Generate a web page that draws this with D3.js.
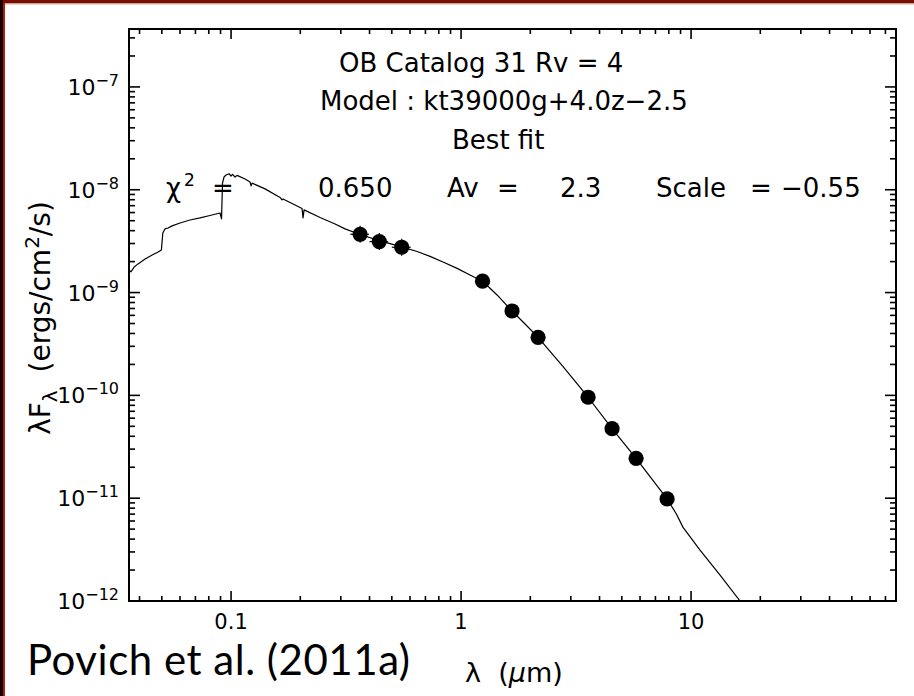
<!DOCTYPE html>
<html><head><meta charset="utf-8">
<script src="https://cdn.jsdelivr.net/npm/d3@7/dist/d3.min.js"></script>
<style>html,body{margin:0;padding:0;background:#fff}svg{display:block}</style>
</head><body>
<script>
// ---- data ----
// model SED (wavelength in micron, lambda*F_lambda in erg/cm^2/s)
const modelWavelength = [0.0360,0.0367,0.0379,0.0394,0.0423,0.0454,0.0482,0.0498,0.0505,0.0516,0.0532,0.0554,0.0600,0.0663,0.0733,0.0810,0.0896,0.0909,0.0918,0.0932,0.0951,0.0980,0.1000,0.1015,0.1041,0.1062,0.1151,0.1209,0.1222,0.1234,0.1405,0.1633,0.1666,0.1683,0.1898,0.2035,0.2056,0.2077,0.2438,0.2833,0.3131,0.3638,0.4444,0.543,0.644,0.733,0.835,0.961,1.094,1.246,1.434,1.666,1.898,2.162,2.777,3.566,4.535,5.767,7.865,8.61,9.23,10.94,13.37,16.33,19.95];
const modelFlux = [1.66e-9,1.59e-9,1.77e-9,1.90e-9,2.12e-9,2.32e-9,2.48e-9,2.60e-9,3.80e-9,4.16e-9,4.25e-9,4.45e-9,4.75e-9,5.08e-9,5.32e-9,5.62e-9,5.94e-9,5.20e-9,1.16e-8,1.33e-8,1.39e-8,1.43e-8,1.36e-8,1.41e-8,1.33e-8,1.38e-8,1.27e-8,1.19e-8,1.09e-8,1.16e-8,1.02e-8,8.41e-9,7.96e-9,8.14e-9,7.11e-9,6.58e-9,5.32e-9,6.37e-9,5.38e-9,4.65e-9,4.16e-9,3.67e-9,3.18e-9,2.81e-9,2.51e-9,2.25e-9,1.98e-9,1.72e-9,1.48e-9,1.28e-9,9.48e-10,6.62e-10,4.95e-10,3.67e-10,1.90e-10,9.59e-11,4.74e-11,2.44e-11,9.83e-12,7.10e-12,5.20e-12,3.13e-12,1.79e-12,1.00e-12,5.58e-13];
// photometry
const photWavelength = [0.364,0.441,0.552,1.240,1.666,2.162,3.566,4.535,5.767,7.865];
const photFlux = [3.69e-9,3.13e-9,2.76e-9,1.29e-9,6.62e-10,3.67e-10,9.59e-11,4.74e-11,2.44e-11,9.83e-12];
const photFluxErrFrac = [0.21,0.21,0.21,0,0,0,0,0,0,0];
const photBandHalfWidth = [0.034,0.041,0.052,0,0,0,0,0,0,0];
// axes
const xDomain = [0.036, 77.8];
const yDomain = [1e-12, 3.66e-7];
const xMajorTicks = [0.1, 1, 10];
const xTickLabels = ["0.1", "1", "10"];
const yMajorExponents = [-12, -11, -10, -9, -8, -7];
const yTickSuper = ["\u221212", "\u221211", "\u221210", "\u22129", "\u22128", "\u22127"];
// annotation text
const titleLines = ["OB Catalog 31 Rv = 4", "Model : kt39000g+4.0z\u22122.5", "Best fit"];
const statLabels = ["\u03c7", "=", "0.650", "Av", "=", "2.3", "Scale", "=", "\u22120.55"];
const creditText = "Povich et al. (2011a)";

// ---- layout ----
const W = 914, H = 696;
const L = 129, R = 896, T = 29, B = 601;
const svg = d3.select("body").append("svg").attr("width", W).attr("height", H);
svg.append("rect").attr("width", W).attr("height", H).attr("fill", "#fff");

// slide frame remnants
svg.append("rect").attr("x", 0).attr("y", 0).attr("width", W).attr("height", 3.5).attr("fill", "#780d02");
svg.append("rect").attr("x", 0).attr("y", 3.5).attr("width", W).attr("height", 1).attr("fill", "#e3b1aa");
svg.append("rect").attr("x", 0).attr("y", 0).attr("width", 3).attr("height", H).attr("fill", "#160200");
svg.append("rect").attr("x", 3).attr("y", 3).attr("width", 2).attr("height", H).attr("fill", "#a3230f");

const x = d3.scaleLog().domain(xDomain).range([L, R]);
const y = d3.scaleLog().domain(yDomain).range([B, T]);

const FONT = "'DejaVu Sans', sans-serif";

// minor tick values
const xMinor = [];
[0.01, 0.1, 1, 10].forEach(d => { for (let k = 2; k <= 9; k++) { const v = d * k; if (v > xDomain[0] && v < xDomain[1]) xMinor.push(v); } });
const yMinor = [];
[-12, -11, -10, -9, -8, -7].forEach(e => { for (let k = 2; k <= 9; k++) { const v = k * Math.pow(10, e); if (v > yDomain[0] && v < yDomain[1]) yMinor.push(v); } });
const yMajor = yMajorExponents.map(e => Math.pow(10, e));

const tg = svg.append("g").attr("stroke", "#000").attr("stroke-width", 1.6);
function xt(vals, len) {
  vals.forEach(v => {
    tg.append("line").attr("x1", x(v)).attr("x2", x(v)).attr("y1", B).attr("y2", B - len);
    tg.append("line").attr("x1", x(v)).attr("x2", x(v)).attr("y1", T).attr("y2", T + len);
  });
}
function yt(vals, len) {
  vals.forEach(v => {
    tg.append("line").attr("y1", y(v)).attr("y2", y(v)).attr("x1", L).attr("x2", L + len);
    tg.append("line").attr("y1", y(v)).attr("y2", y(v)).attr("x1", R).attr("x2", R - len);
  });
}
xt(xMajorTicks, 10); xt(xMinor, 5);
yt(yMajor, 11); yt(yMinor, 6);

// frame
svg.append("rect").attr("x", L).attr("y", T).attr("width", R - L).attr("height", B - T)
  .attr("fill", "none").attr("stroke", "#000").attr("stroke-width", 2);

// tick labels
svg.append("g").selectAll("text").data(xMajorTicks).join("text")
  .attr("x", d => x(d)).attr("y", 629).attr("text-anchor", "middle")
  .attr("font-family", FONT).attr("font-size", 21).attr("fill", "#000")
  .text((d, i) => xTickLabels[i]);

const yl = svg.append("g").selectAll("text").data(yMajor).join("text")
  .attr("x", 119).attr("y", d => y(d) + 8).attr("text-anchor", "end")
  .attr("font-family", FONT).attr("font-size", 22).attr("fill", "#000");
yl.append("tspan").text("10");
yl.append("tspan").attr("dy", -9).attr("font-size", 16).text((d, i) => yTickSuper[i]);

// clip
svg.append("clipPath").attr("id", "clip").append("rect")
  .attr("x", L).attr("y", T).attr("width", R - L).attr("height", B - T);

// model curve
const model = modelWavelength.map((w, i) => [w, modelFlux[i]]);
svg.append("path").datum(model).attr("clip-path", "url(#clip)")
  .attr("fill", "none").attr("stroke", "#000").attr("stroke-width", 1.2).attr("stroke-linejoin", "round")
  .attr("d", d3.line().x(d => x(d[0])).y(d => y(d[1])));

// photometry
const phot = photWavelength.map((w, i) => ({ w, f: photFlux[i], e: photFluxErrFrac[i], b: photBandHalfWidth[i] }));
const eg = svg.append("g").attr("stroke", "#000").attr("stroke-width", 1.2);
phot.filter(d => d.e > 0).forEach(d => {
  eg.append("line").attr("x1", x(d.w)).attr("x2", x(d.w)).attr("y1", y(d.f * (1 + d.e))).attr("y2", y(d.f / (1 + d.e)));
  eg.append("line").attr("x1", x(d.w - d.b)).attr("x2", x(d.w + d.b)).attr("y1", y(d.f)).attr("y2", y(d.f));
});
svg.append("g").selectAll("circle").data(phot).join("circle")
  .attr("cx", d => x(d.w)).attr("cy", d => y(d.f)).attr("r", 7.6).attr("fill", "#000");

// title lines
const titleX = [339, 320, 452], titleY = [72, 110, 149];
svg.append("g").selectAll("text").data(titleLines).join("text")
  .attr("x", (d, i) => titleX[i]).attr("y", (d, i) => titleY[i])
  .attr("font-family", FONT).attr("font-size", 26).attr("fill", "#000")
  .attr("style", "white-space:pre").text(d => d);

// fit statistics line
const statX = [166, 212, 318, 447, 497, 560, 656, 750, 781];
svg.append("g").selectAll("text").data(statLabels).join("text")
  .attr("x", (d, i) => statX[i]).attr("y", 197)
  .attr("font-family", FONT).attr("font-size", 26).attr("fill", "#000")
  .text(d => d);
svg.append("text").attr("x", 184).attr("y", 186).attr("font-family", FONT).attr("font-size", 17).text("2");

// axis titles
const ylab = svg.append("text").attr("transform", "translate(50,318) rotate(-90)")
  .attr("text-anchor", "middle").attr("font-family", FONT).attr("font-size", 28).attr("fill", "#000");
ylab.append("tspan").text("\u03bbF");
ylab.append("tspan").attr("font-size", 20).attr("dy", 7).text("\u03bb");
ylab.append("tspan").attr("dy", -7).attr("style", "white-space:pre").text("  (ergs/cm");
ylab.append("tspan").attr("font-size", 20).attr("dy", -11).text("2");
ylab.append("tspan").attr("dy", 11).text("/s)");

const xlab = svg.append("text").attr("x", 465).attr("y", 682)
  .attr("font-family", FONT).attr("font-size", 27).attr("fill", "#000").attr("style", "white-space:pre");
xlab.append("tspan").text("\u03bb  (");
xlab.append("tspan").attr("font-style", "italic").text("\u03bc");
xlab.append("tspan").text("m)");

// credit
svg.append("text").attr("x", 27).attr("y", 675)
  .attr("font-family", "Lato, 'Open Sans', sans-serif").attr("font-size", 42).attr("fill", "#000")
  .attr("textLength", 383).attr("lengthAdjust", "spacing")
  .text(creditText);
</script>
</body></html>
